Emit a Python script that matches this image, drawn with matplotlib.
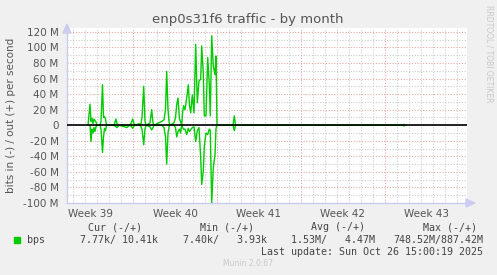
import numpy as np
import matplotlib
matplotlib.use("Agg")
import matplotlib.pyplot as plt

# time in days from the left edge of the graph, values in Mbit/s
days = [1.75, 1.917, 2.0, 2.083, 2.167, 2.25, 2.333, 2.417, 2.5, 2.75, 2.833, 2.958,
        3.042, 3.125, 3.208, 3.292, 3.917, 4.083, 4.167, 4.333, 5.0, 5.083, 5.167,
        5.333, 5.475, 5.583, 5.667, 6.0, 6.083, 6.167, 6.25, 6.392, 6.5, 6.583,
        6.917, 7.058, 7.167, 7.25, 7.917, 8.083, 8.208, 8.308, 8.417, 8.5, 8.583,
        8.917, 9.042, 9.142, 9.25, 9.375, 9.458, 9.558, 9.625, 9.708, 9.833, 9.975,
        10.108, 10.208, 10.308, 10.442, 10.583, 10.725, 10.858, 11.0, 11.142, 11.225,
        11.358, 11.442, 11.583, 11.725, 11.858, 11.942, 12.058, 12.192, 12.333,
        12.417, 12.5, 13.833, 13.942, 14.042, 28.0, 28.083, 28.167]
out_bps = [0, 27, 5, 9, 2, 8, 6, 4, 0, 0, 5, 52,
           10, 11, 8, 0, 0, 8, 2, 0, 0, 0, 0,
           2, 8, 2, 0, 2, 0, 2, 10, 50, 5, 0,
           3, 20, 3, 0, 5, 7, 20, 69, 20, 5, 0,
           3, 10, 26, 35, 8, 5, 0, 15, 25, 20, 35,
           52, 25, 16, 39, 16, 104, 29, 57, 59, 102,
           67, 12, 12, 87, 52, 12, 115, 76, 65,
           89, 0, 0, 12, 0, 0, 1, 0]
in_bps = [0, 0, -21, -5, -10, -3, -8, -2, 0, 0, -5, -35,
          -15, -4, -7, 0, 0, -2, -3, 0, -3, -2, 0,
          -1, -4, -1, 0, 0, 0, -2, -5, -25, -5, 0,
          -2, -6, -3, 0, 0, -3, -15, -50, -10, -2, 0,
          0, -3, -15, -8, -5, -10, 0, -3, -5, -5, -12,
          -4, -8, -6, -3, -2, -21, -7, -3, -42, -76,
          -59, -27, -10, -12, -5, -7, -100, -55, -38,
          -4, 0, 0, -7, 0, 0, -1, 0]

yticks = [-100, -80, -60, -40, -20, 0, 20, 40, 60, 80, 100, 120]
ylabels = ["%d M" % v if v != 0 else "0" for v in yticks]
week_pos = [2.0, 9.0, 16.0, 23.0, 30.0]
week_labels = ["Week 39", "Week 40", "Week 41", "Week 42", "Week 43"]
week_bounds = [5.5, 12.5, 19.5, 26.5]

W, H = 497, 275
fig = plt.figure(figsize=(W / 100, H / 100), dpi=100, facecolor="#f0f0f0")

def fx(x):
    return x / W

def fy(y):
    return 1 - y / H

ax = fig.add_axes([fx(67), fy(203), fx(467) - fx(67), fy(28) - fy(203)])
ax.set_facecolor("white")
ax.set_xlim(0, 400 / 12)
ax.set_ylim(-100, 125)

dots = (0, (1, 1.5))
for v in range(-90, 125, 10):
    if v % 20 == 0:
        ax.axhline(v, color="#e6a8a8", lw=0.8, ls=dots, zorder=1)
    else:
        ax.axhline(v, color="#cccccc", lw=0.8, ls=dots, zorder=1)
for d in np.arange(0.5, 33.4, 1.0):
    if d in week_bounds:
        ax.axvline(d, color="#e6a8a8", lw=0.8, ls=dots, zorder=1)
    else:
        ax.axvline(d, color="#cccccc", lw=0.8, ls=dots, zorder=1)

# leave out the long idle stretch so no green sits on the zero line
d = np.array(days, dtype=float)
o = np.array(out_bps, dtype=float)
i = np.array(in_bps, dtype=float)
idle = (d > 14.1) & (d < 27.9)
o[idle] = np.nan
i[idle] = np.nan
ax.plot(d, o, color="#00cc00", lw=1.0, zorder=3)
ax.plot(d, i, color="#00cc00", lw=1.0, zorder=3)
ax.axhline(0, color="black", lw=1.2, zorder=4)

for s in ["top", "right"]:
    ax.spines[s].set_visible(False)
for s in ["left", "bottom"]:
    ax.spines[s].set_color("#ccccf0")
    ax.spines[s].set_linewidth(1.0)

ax.set_yticks(yticks)
ax.set_yticklabels(ylabels)
ax.set_xticks(week_pos)
ax.set_xticklabels(week_labels)
ax.tick_params(axis="both", length=0, labelsize=7.5, labelcolor="#555555")
ax.tick_params(axis="y", pad=6)
ax.tick_params(axis="x", pad=4)

# arrow heads on the axes
fig.patches.append(matplotlib.patches.Polygon(
    [(fx(63), fy(33)), (fx(71), fy(33)), (fx(67), fy(24))],
    closed=True, transform=fig.transFigure, color="#ccccf0"))
fig.patches.append(matplotlib.patches.Polygon(
    [(fx(466), fy(199)), (fx(466), fy(207)), (fx(475), fy(203))],
    closed=True, transform=fig.transFigure, color="#ccccf0"))

fig.text(fx(248), fy(20), "enp0s31f6 traffic - by month", ha="center", va="center",
         fontsize=9.5, color="#555555")
fig.text(fx(11), fy(115), "bits in (-) / out (+) per second", rotation=90,
         ha="center", va="center", fontsize=7.5, color="#555555")
fig.text(fx(489), fy(5), "RRDTOOL / TOBI OETIKER", rotation=270, ha="center",
         va="top", fontsize=5.5, color="#c8c8c8")

mono = dict(family="DejaVu Sans Mono", fontsize=7.2, color="#444444", va="center")
fig.text(fx(142), fy(227), "Cur (-/+)", ha="right", **mono)
fig.text(fx(254), fy(227), "Min (-/+)", ha="right", **mono)
fig.text(fx(365), fy(227), "Avg (-/+)", ha="right", **mono)
fig.text(fx(477), fy(227), "Max (-/+)", ha="right", **mono)
fig.patches.append(matplotlib.patches.Rectangle(
    (fx(14), fy(243)), fx(6), fy(237) - fy(243), transform=fig.transFigure,
    color="#00cc00"))
fig.text(fx(27), fy(240), "bps", ha="left", **mono)
fig.text(fx(158), fy(240), "7.77k/ 10.41k", ha="right", **mono)
fig.text(fx(267), fy(240), "7.40k/   3.93k", ha="right", **mono)
fig.text(fx(375), fy(240), "1.53M/   4.47M", ha="right", **mono)
fig.text(fx(483), fy(240), "748.52M/887.42M", ha="right", **mono)
fig.text(fx(483), fy(252), "Last update: Sun Oct 26 15:00:19 2025", ha="right", **mono)
fig.text(fx(248), fy(263), "Munin 2.0.67", ha="center", va="center", fontsize=5.5,
         color="#c8c8c8")

fig.savefig("out.png", dpi=100, facecolor=fig.get_facecolor())
